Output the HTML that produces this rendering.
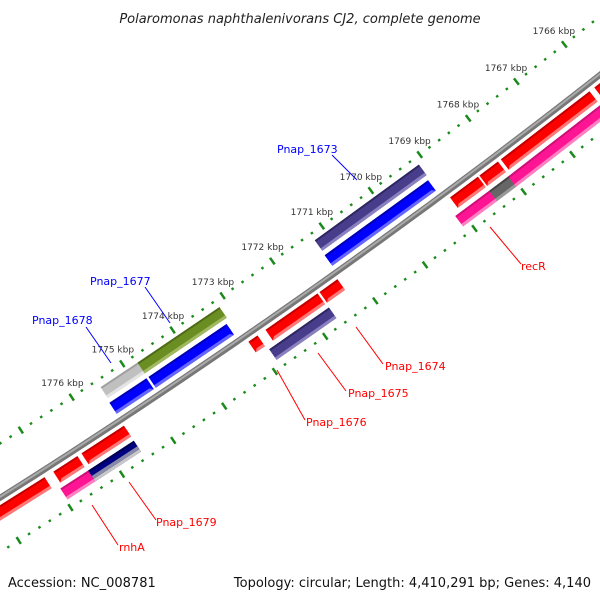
<!DOCTYPE html>
<html><head><meta charset="utf-8"><style>
html,body{margin:0;padding:0;background:#fff;}
svg{display:block;font-family:"DejaVu Sans","Liberation Sans",sans-serif;}
</style></head><body>
<svg id="map" width="600" height="600" viewBox="0 0 600 600">
<text x="300" y="23" text-anchor="middle" font-size="13" font-style="italic" fill="#222">Polaromonas naphthalenivorans CJ2, complete genome</text>
<g id="ticks"></g>
<g id="backbone"></g>
<g id="features"></g>
<g id="kbplabels"></g>
<g font-size="11">
<line x1="332" y1="155" x2="357" y2="180" stroke="#00f" stroke-width="1"/>
<text x="277" y="153" fill="#00f">Pnap_1673</text>
<line x1="145" y1="287" x2="170" y2="323" stroke="#00f" stroke-width="1"/>
<text x="90" y="285" fill="#00f">Pnap_1677</text>
<line x1="86" y1="327" x2="111" y2="363" stroke="#00f" stroke-width="1"/>
<text x="32" y="324" fill="#00f">Pnap_1678</text>
<line x1="490" y1="227" x2="521" y2="264" stroke="#f00" stroke-width="1"/>
<text x="521" y="270" fill="#f00">recR</text>
<line x1="356" y1="327" x2="383" y2="364" stroke="#f00" stroke-width="1"/>
<text x="385" y="370" fill="#f00">Pnap_1674</text>
<line x1="318" y1="353" x2="346" y2="391" stroke="#f00" stroke-width="1"/>
<text x="348" y="397" fill="#f00">Pnap_1675</text>
<line x1="277" y1="370" x2="305" y2="420" stroke="#f00" stroke-width="1"/>
<text x="306" y="426" fill="#f00">Pnap_1676</text>
<line x1="129" y1="482" x2="156" y2="520" stroke="#f00" stroke-width="1"/>
<text x="156" y="526" fill="#f00">Pnap_1679</text>
<line x1="92" y1="505" x2="118" y2="545" stroke="#f00" stroke-width="1"/>
<text x="119" y="551" fill="#f00">rnhA</text>
</g>
<text x="8" y="587" font-size="13" fill="#111">Accession: NC_008781</text>
<text x="591" y="587" font-size="13" fill="#111" text-anchor="end">Topology: circular; Length: 4,410,291 bp; Genes: 4,140</text>
</svg>
<script>
// feature data (kbp start, kbp end)
const featStart = [1775.51,1774.78,1771.23,1775.53,1774.76,1771.24,1779.0,1776.92,1776.37,1773.08,1772.74,1771.66,1769.02,1768.42,1767.98,1766.05,1776.97,1776.43,1772.87,1769.13,1768.44,1768.05];
const featEnd   = [1774.78,1773.15,1769.11,1774.80,1773.21,1769.14,1777.09,1776.45,1775.54,1772.90,1771.70,1771.30,1768.45,1768.04,1766.15,1765.0,1776.43,1775.54,1771.68,1768.44,1768.04,1765.0];
const featTrack = [-2,-2,-2,-1,-1,-1,1,1,1,1,1,1,1,1,1,1,2,2,2,2,2,2];
const featDir   = ['none','none','none','right','right','right','none','left','left','left','left','left','left','left','left','left','none','none','none','none','none','none'];
const featColor = ['#c0c0c0','#6b8e23','#483d8b','#0000ff','#0000ff','#0000ff','#ff0000','#ff0000','#ff0000','#ff0000','#ff0000','#ff0000','#ff0000','#ff0000','#ff0000','#ff0000','#ff1493','navy','#483d8b','#ff1493','#666666','#ff1493'];
const featName  = ['pnap-1678','pnap-1677','pnap-1673','gene-blue-1','gene-blue-2','gene-blue-3','gene-red-1','gene-red-2','gene-red-3','gene-red-4','pnap-1674','gene-red-5','gene-red-6','gene-red-7','gene-red-8','gene-red-9','rnha','pnap-1679','pnap-1675','recr','gene-gray','gene-pink'];
const tickMin = 1765.0, tickMax = 1779.0, tickStep = 0.2;
const labelKbp = [1766,1767,1768,1769,1770,1771,1772,1773,1774,1775,1776];

const NS='http://www.w3.org/2000/svg';
const CX=-3826, CY=-5566, R=7170, TH0=Math.atan2(5864,4126);
function sOf(k){return -62.4+(1773-k)*61;}
function pt(s,d){const t=TH0-s/R;return [CX+(R+d)*Math.cos(t),CY+(R+d)*Math.sin(t)];}
function poly(pts){return pts.map(p=>p[0].toFixed(1)+','+p[1].toFixed(1)).join(' ');}
function lighten(c){const m={'#ff0000':'#ff7777','#0000ff':'#6666ff','#483d8b':'#8a80c0','#6b8e23':'#a0b860','#c0c0c0':'#e4e4e4','#ff1493':'#ff80c0','navy':'#c8c8c8','#666666':'#999999'};return m[c]||'#ddd';}
function darken(c){const m={'#ff0000':'#c00000','#0000ff':'#0000b0','#483d8b':'#2e2660','#6b8e23':'#4e6a18','#c0c0c0':'#a0a0a0','#ff1493':'#cc1077','navy':'#000050','#666666':'#444'};return m[c]||'#555';}
const trackD={'-2':-32,'-1':-14,'1':13,'2':31};

// ticks
const tg=document.getElementById('ticks');
for(let i=0;tickMin+i*tickStep<=tickMax+1e-9;i++){
  const k=tickMin+i*tickStep; const s=sOf(k);
  const major=Math.abs(k-Math.round(k))<1e-6;
  [-46,46].forEach(d=>{
    const a=pt(s,d-(major?4:1.2)), b=pt(s,d+(major?4:1.2));
    const l=document.createElementNS(NS,'line');
    
    
    l.setAttribute('x1',a[0]);l.setAttribute('y1',a[1]);l.setAttribute('x2',b[0]);l.setAttribute('y2',b[1]);
    l.setAttribute('stroke','#1a8a1a');l.setAttribute('stroke-width','2.5');
    tg.appendChild(l);
  });
}
// kbp labels
const kg=document.getElementById('kbplabels');
labelKbp.forEach(k=>{
  const p=pt(sOf(k),-63);
  const t=document.createElementNS(NS,'text');
  
  
  t.setAttribute('x',p[0]);t.setAttribute('y',p[1]+3);
  t.setAttribute('text-anchor','middle');t.setAttribute('font-size','9');t.setAttribute('fill','#333');
  t.textContent=k+' kbp';kg.appendChild(t);
});
// backbone
const bg=document.getElementById('backbone');
function arcPath(d){let pts=[];for(let s=-480;s<=480;s+=20)pts.push(pt(s,d));return poly(pts);}
[['#777',6],['#aaa',2]].forEach((st,i)=>{
  const pl=document.createElementNS(NS,'polyline');
  
  
  pl.setAttribute('points',arcPath(i?-0.8:0));pl.setAttribute('fill','none');
  pl.setAttribute('stroke',st[0]);pl.setAttribute('stroke-width',st[1]);bg.appendChild(pl);
});
// features
const fg=document.getElementById('features');
function shape(s1,s2,d0,d1,dir,dc,w,h){
  // s1<s2 ; returns polygon points for band [d0,d1] of a feature centred at dc with half-width w
  function off(d){const f=Math.abs(d-dc)/w;return h*f;}
  let a=s1,b=s2;
  const pts=[];
  if(dir==='left'){pts.push(pt(a+h-off(d0),d0),pt(b,d0),pt(b,d1),pt(a+h-off(d1),d1));if(d0<dc&&d1>dc)pts.push(pt(a,dc));else{}}
  else if(dir==='right'){pts.push(pt(a,d0),pt(b-h+off(d0),d0));if(d0<dc&&d1>dc)pts.push(pt(b,dc));pts.push(pt(b-h+off(d1),d1),pt(a,d1));}
  else pts.push(pt(a,d0),pt(b,d0),pt(b,d1),pt(a,d1));
  return poly(pts);
}
for(let i=0;i<featStart.length;i++){
  let s1=sOf(featStart[i]), s2=sOf(featEnd[i]); if(s1>s2){const t=s1;s1=s2;s2=t;}
  const dc=trackD[featTrack[i]], w=6.5, h=Math.min(7,(s2-s1)*0.6), c=featColor[i], dir=featDir[i];
  const g=document.createElementNS(NS,'g');
  
  
  const bands=[[dc-w,dc-w+2,darken(c)],[dc-w+2,dc+w-3,c],[dc+w-3,dc+w,lighten(c)]];
  const full=document.createElementNS(NS,'polygon');
  full.setAttribute('points',shape(s1,s2,dc-w,dc+w,dir,dc,w,h));full.setAttribute('fill',c);g.appendChild(full);
  bands.forEach(bd=>{
    const p=document.createElementNS(NS,'polygon');
    p.setAttribute('points',shape(s1,s2,bd[0],bd[1],dir,dc,w,h));p.setAttribute('fill',bd[2]);g.appendChild(p);
  });
  if(c==='navy'){const p=document.createElementNS(NS,'polygon');p.setAttribute('points',shape(s1,s2,dc,dc+w-3,dir,dc,w,h));p.setAttribute('fill','#8888a8');g.appendChild(p);}
  fg.appendChild(g);
}
</script>
</body></html>
